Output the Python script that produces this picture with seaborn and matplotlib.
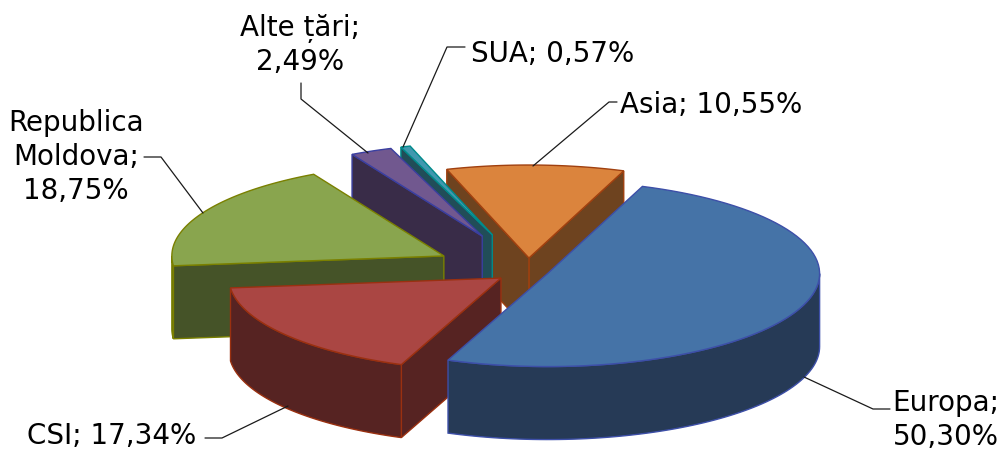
import numpy as np
import matplotlib
matplotlib.use("Agg")
import matplotlib.pyplot as plt
import seaborn as sns

# share of each region, going round the pie from Europa
regions = ["Europa", "Asia", "SUA", "Alte țări", "Republica Moldova", "CSI"]
shares = [50.30, 10.55, 0.57, 2.49, 18.75, 17.34]
label_text = ["Europa;\n50,30%", "Asia; 10,55%", "SUA; 0,57%", "Alte țări;\n2,49%",
              "Republica\nMoldova;\n18,75%", "CSI; 17,34%"]

# look of the slices
top_colors = ["#4573A7", "#DB843D", "#4198AF", "#71588F", "#89A54E", "#AA4643"]
side_colors = ["#263A56", "#6E431F", "#214D58", "#392C48", "#455328", "#562322"]
edge_colors = ["#3D4FA8", "#A0400F", "#008B8B", "#3A3FA0", "#7A8000", "#9A3010"]
explode = [21, 38, 112, 112, 95, 34]
draw_order = [1, 2, 3, 4, 5, 0]

# label and leader line positions, in pixels
label_pos = [(946, 420), (711, 105), (553, 54), (300, 45), (76, 157), (112, 436)]
leaders = [
    [(804, 377), (873, 409), (890, 409)],
    [(533, 166), (609, 102), (617, 102)],
    [(403, 147), (447, 47), (465, 47)],
    [(368, 153), (301, 99), (301, 83)],
    [(203, 213), (161, 157), (144, 157)],
    [(288, 406), (222, 438), (205, 438)],
]

center_x, center_y = 528, 271
radius_x, radius_y = 272, 93
depth = 73
start_angle = -111.48

sns.set_theme(style="white")
plt.rcParams["font.family"] = ["DejaVu Sans"]

fig, ax = plt.subplots(figsize=(10, 4.5), dpi=100)
fig.subplots_adjust(0, 0, 1, 1)
ax.set_xlim(0, 1000)
ax.set_ylim(450, 0)
ax.axis("off")


def rim(cx, cy, a, b):
    t = np.radians(np.linspace(a, b, 80))
    return cx + radius_x * np.cos(t), cy - radius_y * np.sin(t)


def draw_slice(i, a1, a2):
    mid = np.radians((a1 + a2) / 2)
    cx = center_x + explode[i] * np.cos(mid)
    cy = center_y - explode[i] * radius_y / radius_x * np.sin(mid)
    style = dict(facecolor=side_colors[i], edgecolor=edge_colors[i], linewidth=1)

    # cut faces which look towards the viewer
    for a, visible in ((a1, np.cos(np.radians(a1)) > 0), (a2, np.cos(np.radians(a2)) < 0)):
        if visible:
            x, y = rim(cx, cy, a, a)
            ax.fill([cx, x[0], x[0], cx], [cy, y[0], y[0] + depth, cy + depth], **style)

    # outer wall, only the front half of the rim shows
    for k in (0, 360):
        lo, hi = max(a1, 180 + k - 360), min(a2, 360 + k - 360)
        if hi > lo:
            x, y = rim(cx, cy, lo, hi)
            ax.fill(np.r_[x, x[::-1]], np.r_[y, y[::-1] + depth], **style)

    x, y = rim(cx, cy, a1, a2)
    ax.fill(np.r_[cx, x], np.r_[cy, y], facecolor=top_colors[i], edgecolor=edge_colors[i], linewidth=1)


ends = start_angle + np.cumsum(shares) * 3.6
starts = np.r_[start_angle, ends[:-1]]
for i in draw_order:
    draw_slice(i, starts[i], ends[i])

for pts in leaders:
    ax.plot(*zip(*pts), color="#1a1a1a", linewidth=0.9, zorder=5)

for text, (x, y) in zip(label_text, label_pos):
    ax.text(x, y, text, ha="center", va="center", fontsize=20, color="black",
            linespacing=1.27, zorder=6)

fig.savefig("out.png", dpi=100, facecolor="white")
